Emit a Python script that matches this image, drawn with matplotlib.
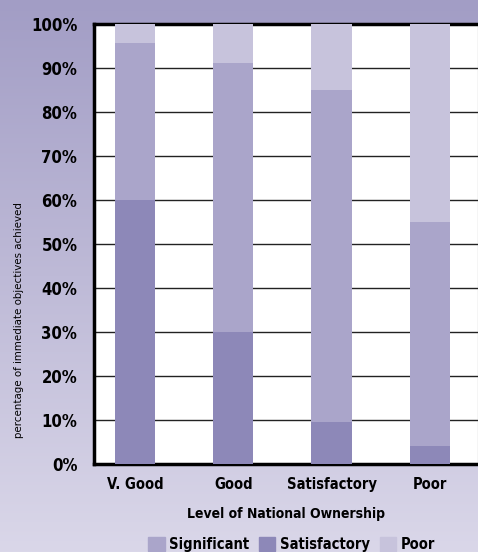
import matplotlib.pyplot as plt
import numpy as np
from matplotlib.colors import LinearSegmentedColormap
from matplotlib.patches import Patch

# Data (percent)
categories = ['V. Good', 'Good', 'Satisfactory', 'Poor']
satisfactory = [60, 30, 9.5, 4]
significant = [35.5, 61, 75.5, 51]
poor = [4.5, 9, 15, 45]
yticks = list(range(0, 101, 10))

c_dark = '#8d88b8'
c_mid = '#aaa5ca'
c_light = '#c7c3dc'

plt.rcParams['font.family'] = ['DejaVu Sans']
plt.rcParams['font.stretch'] = 'condensed'

fig = plt.figure(figsize=(4.78, 5.52), dpi=100)

# background gradient
bg = fig.add_axes([0, 0, 1, 1], zorder=-10)
cmap = LinearSegmentedColormap.from_list('bg', ['#a29dc5', '#dad7e9'])
bg.imshow(np.linspace(0, 1, 256).reshape(-1, 1), aspect='auto', cmap=cmap,
          extent=[0, 1, 0, 1])
bg.axis('off')

ax = fig.add_axes([0.1967, 0.1594, 0.8033, 0.798])
x = np.arange(len(categories))
w = 0.41
bottom2 = np.array(satisfactory)
bottom3 = bottom2 + np.array(significant)
ax.bar(x, satisfactory, w, color=c_dark, zorder=3)
ax.bar(x, significant, w, bottom=bottom2, color=c_mid, zorder=3)
ax.bar(x, poor, w, bottom=bottom3, color=c_light, zorder=3)

ax.set_xlim(-0.418, 3.49)
ax.set_ylim(0, 100)
ax.set_yticks(yticks)
ax.set_yticklabels([f'{t}%' for t in yticks], fontsize=12, fontweight='bold')
ax.set_xticks(x)
ax.set_xticklabels(categories, fontsize=10.5, fontweight='bold')
ax.tick_params(axis='y', length=0, pad=12)
ax.tick_params(axis='x', length=0, pad=9)
ax.yaxis.grid(True, color='#222222', linewidth=1, zorder=0)
ax.set_axisbelow(True)

for s in ['left', 'bottom', 'top']:
    ax.spines[s].set_linewidth(2.5)
    ax.spines[s].set_color('black')
ax.spines['right'].set_linewidth(0.8)
ax.spines['right'].set_color('#555555')

ax.set_xlabel('Level of National Ownership', fontsize=10, fontweight='bold',
              labelpad=11)
fig.text(0.04, 0.42, 'percentage of immediate objectives achieved',
         rotation=90, ha='center', va='center', fontsize=8.2)

handles = [Patch(color=c_mid, label='Significant'),
           Patch(color=c_dark, label='Satisfactory'),
           Patch(color=c_light, label='Poor')]
fig.legend(handles=handles, loc='upper center', bbox_to_anchor=(0.61, 0.041),
           ncol=3, frameon=False, handlelength=1.1,
           handleheight=1.1, handletextpad=0.3, columnspacing=0.7,
           prop={'weight': 'bold', 'size': 10.5, 'stretch': 'condensed'},
           borderpad=0)

fig.savefig('out.png', dpi=100)
